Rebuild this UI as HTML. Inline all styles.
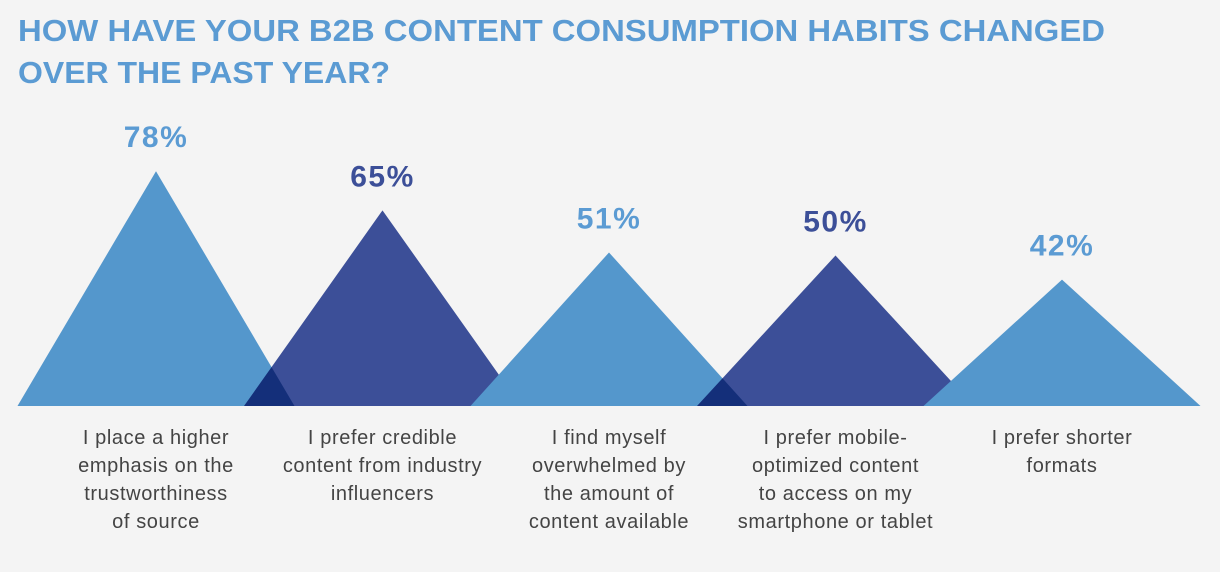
<!DOCTYPE html>
<html><head><meta charset="utf-8"><style>
html,body{margin:0;padding:0;background:#f4f4f4;}
svg{display:block;font-family:"Liberation Sans",sans-serif;}
</style></head><body>
<svg width="1220" height="572" viewBox="0 0 1220 572">
<rect width="1220" height="572" fill="#f4f4f4"/>
<g fill="#5b9bd3" font-weight="bold" font-size="31">
<text x="18" y="41" textLength="1087" lengthAdjust="spacingAndGlyphs">HOW HAVE YOUR B2B CONTENT CONSUMPTION HABITS CHANGED</text>
<text x="18" y="83" textLength="372" lengthAdjust="spacingAndGlyphs">OVER THE PAST YEAR?</text>
</g>
<g id="plot" style="isolation:isolate"></g>
<g id="labels"></g>
</svg>
<script>
const categories = [
 ["I place a higher","emphasis on the","trustworthiness","of source"],
 ["I prefer credible","content from industry","influencers"],
 ["I find myself","overwhelmed by","the amount of","content available"],
 ["I prefer mobile-","optimized content","to access on my","smartphone or tablet"],
 ["I prefer shorter","formats"]
];
const values = [78, 65, 51, 50, 42];
const valueLabels = ["78%","65%","51%","50%","42%"];

const NS="http://www.w3.org/2000/svg";
const baseY=406, pxPer=3.01, firstX=156, step=226.5, halfW=138.5;
const xPos=i=>firstX+i*step;
const yPos=v=>baseY-v*pxPer;
const plot=document.getElementById('plot'), labels=document.getElementById('labels');
values.forEach((v,i)=>{
  const cx=xPos(i), top=yPos(v), dark=i%2===1;
  const p=document.createElementNS(NS,'polygon');
  p.setAttribute('points',`${cx-halfW},${baseY} ${cx},${top} ${cx+halfW},${baseY}`);
  p.setAttribute('fill',dark?'#3c4f98':'#5497cc');
  if(dark) p.style.mixBlendMode='multiply';
  
  
  plot.appendChild(p);
  const t=document.createElementNS(NS,'text');
  t.setAttribute('x',cx); t.setAttribute('y',top-24);
  t.setAttribute('text-anchor','middle'); t.setAttribute('font-size','30'); t.setAttribute('font-weight','bold');
  t.setAttribute('letter-spacing','1.5');
  t.setAttribute('fill',dark?'#3c4f98':'#5b9bd3');
  t.textContent=valueLabels[i];
  
  
  labels.appendChild(t);
  categories[i].forEach((line,j)=>{
    const c=document.createElementNS(NS,'text');
    c.setAttribute('x',cx); c.setAttribute('y',444+j*28);
    c.setAttribute('text-anchor','middle'); c.setAttribute('font-size','20'); c.setAttribute('fill','#444');
    c.setAttribute('letter-spacing','0.6');
    c.textContent=line;
    
    
    labels.appendChild(c);
  });
});
</script>
</body></html>
